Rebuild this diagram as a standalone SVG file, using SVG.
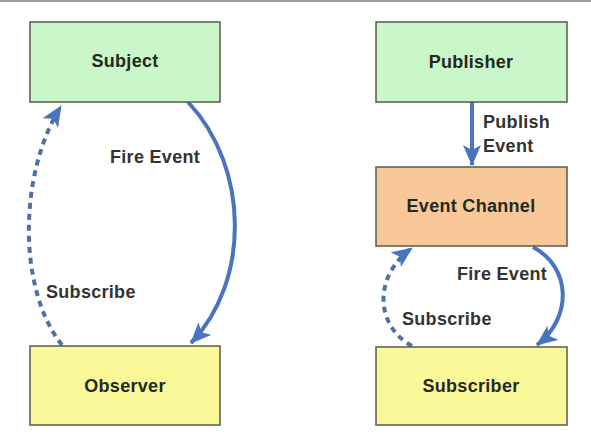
<svg xmlns="http://www.w3.org/2000/svg" width="591" height="437" viewBox="0 0 591 437">
<style>
.box{stroke:#5a5a4a;stroke-width:1.5}
.green{fill:#c9f7c9}
.yellow{fill:#fbf89a}
.orange{fill:#f8c899}
.lbl{font-family:"Liberation Sans",Arial,sans-serif;font-weight:bold;font-size:18px;fill:#222a20;text-anchor:middle;letter-spacing:0.3px}
.elbl{font-family:"Liberation Sans",Arial,sans-serif;font-weight:bold;font-size:18px;fill:#333;letter-spacing:0.3px}
.conn{fill:none;stroke:#4a74c0;stroke-width:4}
.dash{stroke-dasharray:6 5;stroke:#4e70a8}
</style>
<defs>
<marker id="ah" markerUnits="userSpaceOnUse" markerWidth="24" markerHeight="20" refX="20" refY="9" orient="auto">
<path d="M0,0 L21,9 L0,18 L5,9 Z" fill="#4a74c0"/>
</marker>
</defs>
<rect x="0" y="0" width="591" height="2" fill="#9a9a9a"/>
<g id="connectors">
<path class="conn" d="M188,102 C250,168 250,282 191,343" marker-end="url(#ah)"/>
<path class="conn dash" d="M62,345 C18,290 18,175 61,106" marker-end="url(#ah)"/>
<path class="conn" d="M472,102 L472,165" marker-end="url(#ah)"/>
<path class="conn" d="M533,247 C572,268 572,318 537,345" marker-end="url(#ah)"/>
<path class="conn dash" d="M412,346 C374,325 374,275 412,248" marker-end="url(#ah)"/>
<text class="elbl" x="110" y="163">Fire Event</text>
<text class="elbl" x="46" y="298">Subscribe</text>
<text class="elbl" x="483" y="128">Publish</text>
<text class="elbl" x="483" y="152">Event</text>
<text class="elbl" x="457" y="280">Fire Event</text>
<text class="elbl" x="402" y="325">Subscribe</text>
</g>
<g id="subject"><rect class="box green" x="30" y="22" width="190" height="80"/><text class="lbl" x="125" y="67">Subject</text></g>
<g id="observer"><rect class="box yellow" x="30" y="346" width="190" height="79"/><text class="lbl" x="125" y="392">Observer</text></g>
<g id="publisher"><rect class="box green" x="376" y="22" width="191" height="80"/><text class="lbl" x="471" y="68">Publisher</text></g>
<g id="event-channel"><rect class="box orange" x="376" y="167" width="191" height="79"/><text class="lbl" x="471" y="212">Event Channel</text></g>
<g id="subscriber"><rect class="box yellow" x="376" y="347" width="191" height="78"/><text class="lbl" x="471" y="392">Subscriber</text></g>
</svg>
